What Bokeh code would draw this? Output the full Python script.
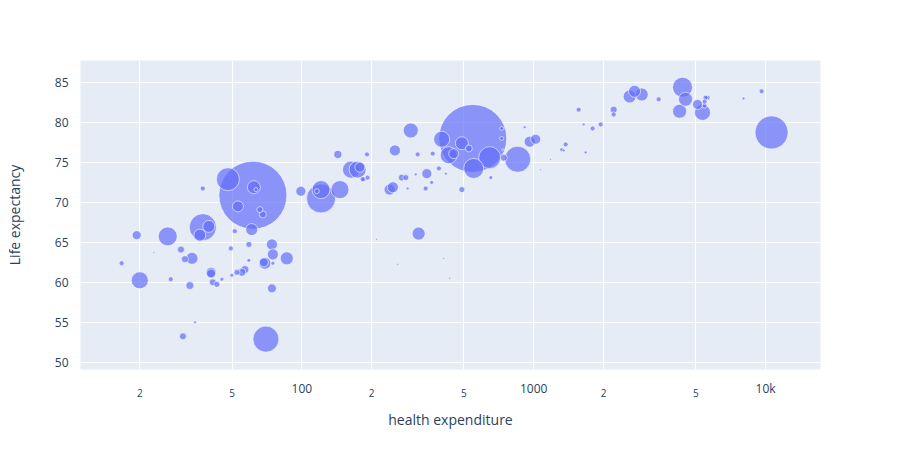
import numpy as np
from bokeh.plotting import figure
from bokeh.models import ColumnDataSource, FixedTicker, LogAxis, Range1d
from bokeh.embed import file_html
from bokeh.resources import INLINE

# health expenditure per capita, life expectancy, population (millions)
health = [16.7, 19.4, 20.0, 23.0, 26.4, 27.2, 30.1, 30.7, 31.3, 32.9, 33.6, 34.6, 36.3, 37.4,
          39.7, 40.6, 41.3, 43.0, 45.2, 48.0, 49.4, 49.9, 51.4, 52.5, 53.0, 55.1, 56.8, 59.1,
          60.8, 61.5, 62.1, 63.4, 65.9, 67.9, 68.6, 69.3, 70.0, 74.3, 75.0, 74.3, 86.1, 99,
          116, 121, 143, 146, 163, 174, 178, 183, 185, 191, 192, 210, 223, 239, 247, 252,
          259, 270, 281, 286, 295, 310, 316, 319, 342, 346, 363, 367, 390, 401, 409, 418,
          430, 434, 452, 490, 525, 546, 551, 646, 653, 728, 728, 735, 743, 853, 914, 961,
          1020, 1072, 1183, 1321, 1346, 1374, 1563, 1643, 1675, 1795, 1945, 2213, 2213, 2594,
          2723, 2924, 3459, 4259, 4385, 4518, 5093, 5346, 5458, 5508, 5623, 5458, 8035, 9616,
          10617, 37.4, 59.1, 40.6, 121, 490, 75.0]
life = [62.4, 65.9, 60.25, 63.75, 65.75, 60.4, 64.1, 53.25, 62.9, 59.6, 63.0, 55.0, 65.9, 66.9,
        67.0, 61.1, 60.0, 59.75, 60.4, 72.9, 64.25, 60.9, 66.4, 61.25, 69.5, 61.25, 61.6, 62.75,
        66.6, 70.9, 71.9, 71.6, 69.1, 68.5, 62.5, 62.4, 52.9, 64.75, 63.5, 59.25, 63.0, 71.4,
        71.4, 70.5, 76.0, 71.6, 74.1, 74.1, 74.4, 72.9, 72.9, 76.0, 73.1, 65.4, 63.1, 71.6,
        71.9, 76.5, 62.25, 73.1, 73.1, 71.75, 79.0, 73.5, 76.0, 66.1, 71.75, 73.6, 72.5, 76.1,
        74.25, 77.9, 63.0, 73.6, 75.9, 60.5, 76.1, 77.4, 76.75, 78.0, 74.25, 75.6, 73.1, 79.25,
        78.0, 76.6, 75.6, 75.4, 79.4, 77.6, 77.9, 74.1, 75.4, 76.6, 76.5, 77.25, 81.6, 79.75,
        76.25, 79.25, 79.75, 81.6, 81.0, 83.25, 83.9, 83.5, 82.9, 81.4, 84.4, 82.9, 82.25, 81.25,
        82.1, 83.1, 83.1, 82.6, 83.0, 83.9, 78.75, 71.75, 64.75, 61.25, 71.6, 71.6, 62.4]
pop = [7.6, 24.5, 87.6, 1.2, 109, 7.6, 14.8, 14.8, 14.8, 19.4, 43.6, 2.7, 43.6, 221,
       43.6, 24.5, 14.8, 10.9, 4.8, 160, 7.6, 4.8, 7.6, 10.9, 36.7, 19.4, 19.4, 4.8,
       43.6, 1400, 51.2, 4.8, 10.9, 14.8, 24.5, 43.6, 205, 36.7, 36.7, 24.5, 51.2, 30.3,
       7.6, 255, 19.4, 98, 87.6, 87.6, 30.3, 7.6, 7.6, 7.6, 7.6, 1.2, 0.3, 36.7,
       36.7, 36.7, 1.2, 14.8, 10.9, 2.7, 68.2, 2.7, 7.6, 51.2, 7.6, 30.3, 4.8, 7.6,
       7.6, 77.6, 1.2, 2.7, 87.6, 1.2, 30.3, 51.2, 14.8, 1400, 121, 147, 4.8, 4.8,
       4.8, 1.2, 14.8, 205, 2.7, 36.7, 30.3, 1.2, 1.2, 4.8, 2.7, 7.6, 7.6, 2.7,
       2.7, 7.6, 7.6, 14.8, 7.6, 51.2, 43.6, 51.2, 7.6, 59.4, 121, 59.4, 30.3, 77.6,
       7.6, 7.6, 7.6, 7.6, 2.7, 7.6, 330, 7.6, 10.9, 30.3, 98, 10.9, 4.8]

x_ticks = [20, 50, 100, 200, 500, 1000, 2000, 5000, 10000]
x_major = {100: "100", 1000: "1000", 10000: "10k"}
y_ticks = [50, 55, 60, 65, 70, 75, 80, 85]

n = min(len(health), len(life), len(pop))
sizes = 68 * np.sqrt(np.array(pop[:n]) / 1400.0)
src = ColumnDataSource(data=dict(x=health[:n], y=life[:n], s=sizes))

p = figure(width=908, height=450, x_axis_type="log", output_backend="svg", toolbar_location=None,
           x_range=Range1d(11.1, 17260), y_range=Range1d(49.1, 87.75),
           min_border_left=80, min_border_right=88, min_border_top=60, min_border_bottom=81,
           background_fill_color="#e5ecf6", border_fill_color="white")
p.outline_line_color = None

# biggest bubbles drawn first so the small ones stay visible
order = np.argsort(-sizes)
src.data = {k: [src.data[k][i] for i in order] for k in src.data}
p.scatter("x", "y", size="s", source=src, fill_color="#636efa", fill_alpha=0.7,
          line_color="white", line_width=0.6)

font = "Open Sans"
minor_axis = LogAxis(ticker=FixedTicker(ticks=x_ticks))
p.add_layout(minor_axis, "below")

for ax in (p.xaxis[0], minor_axis, p.yaxis[0]):
    ax.axis_line_color = None
    ax.major_tick_line_color = None
    ax.minor_tick_line_color = None
    ax.major_label_text_color = "#2a3f5f"
    ax.major_label_text_font = font
    ax.major_label_text_font_size = "12px"
    ax.axis_label_text_color = "#2a3f5f"
    ax.axis_label_text_font = font
    ax.axis_label_text_font_size = "14px"
    ax.axis_label_text_font_style = "normal"

main_x = p.xaxis[0]
main_x.ticker = FixedTicker(ticks=x_ticks)
main_x.major_label_overrides = {t: x_major.get(t, "") for t in x_ticks}
main_x.major_label_standoff = 4

minor_axis.major_label_overrides = {t: ("" if t in x_major else str(t)[0]) for t in x_ticks}
minor_axis.major_label_text_font_size = "10px"
minor_axis.major_label_standoff = -17
minor_axis.axis_label = "health expenditure"
minor_axis.axis_label_standoff = 10

p.yaxis.ticker = FixedTicker(ticks=y_ticks)
p.yaxis.axis_label = "Life expectancy"
p.yaxis.major_label_standoff = 6
p.yaxis.axis_label_standoff = 28

p.grid.grid_line_color = "white"
p.grid.grid_line_width = 1

open("out.html", "w").write(file_html(p, INLINE))
